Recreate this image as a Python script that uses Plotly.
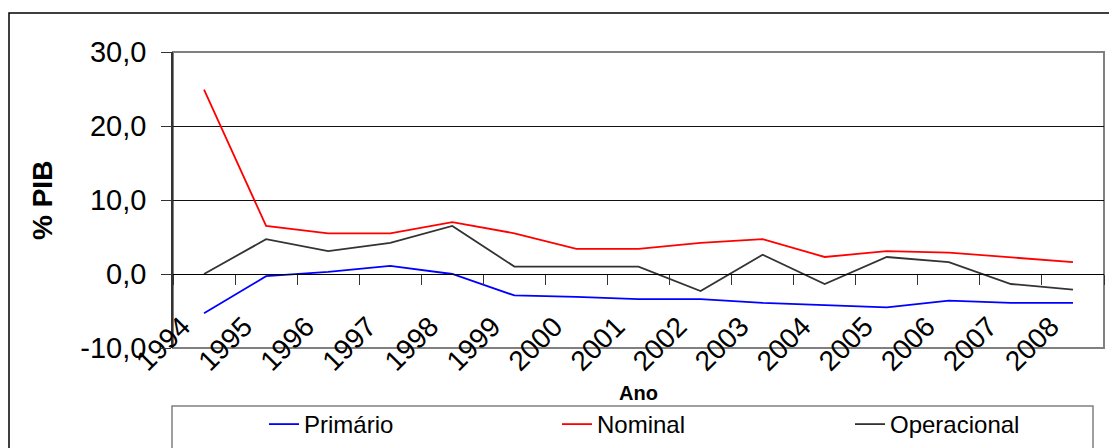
import plotly.graph_objects as go

anos = ["1994", "1995", "1996", "1997", "1998", "1999", "2000", "2001",
        "2002", "2003", "2004", "2005", "2006", "2007", "2008"]
primario = [-5.3, -0.3, 0.3, 1.1, 0.0, -2.9, -3.1, -3.4, -3.4, -3.9, -4.2, -4.5, -3.6, -3.9, -3.9]
nominal = [24.9, 6.5, 5.5, 5.5, 7.0, 5.5, 3.4, 3.4, 4.2, 4.7, 2.3, 3.1, 2.9, 2.3, 1.6]
operacional = [0.0, 4.7, 3.1, 4.2, 6.5, 1.0, 1.0, 1.0, -2.3, 2.6, -1.35, 2.3, 1.6, -1.35, -2.1]
y_ticks = [-10, 0, 10, 20, 30]
y_tick_labels = ["-10,0", "0,0", "10,0", "20,0", "30,0"]

W, H = 1109, 448
L, R, T, B = 173, 5, 52, 100
PW, PH = W - L - R, H - T - B


def px(x):
    return (x - L) / PW


def py(y):
    return (T + PH - y) / PH


FONT = "Liberation Sans, Arial, sans-serif"

fig = go.Figure()
fig.add_trace(go.Scatter(x=anos, y=primario, name="Primário", mode="lines",
                         line=dict(color="#0000FF", width=1.8)))
fig.add_trace(go.Scatter(x=anos, y=nominal, name="Nominal", mode="lines",
                         line=dict(color="#FF0000", width=1.8)))
fig.add_trace(go.Scatter(x=anos, y=operacional, name="Operacional", mode="lines",
                         line=dict(color="#333333", width=1.8)))

fig.update_layout(
    width=W, height=H,
    margin=dict(l=L, r=R, t=T, b=B, pad=0, autoexpand=False),
    paper_bgcolor="white", plot_bgcolor="white",
    font=dict(family=FONT, color="black"),
    showlegend=True,
    legend=dict(orientation="h", x=px(264), xanchor="left", y=py(402), yanchor="top",
                font=dict(size=24, family=FONT), bgcolor="rgba(0,0,0,0)",
                entrywidth=248, entrywidthmode="pixels", borderwidth=0),
    xaxis=dict(type="category", range=[-0.5, 14.5], anchor="free", position=0.25,
               showline=True, linecolor="black", linewidth=1,
               ticks="outside", ticklen=10, tickcolor="#333333", tickwidth=1,
               tickson="boundaries", tickangle=-45, automargin=False,
               ticklabelstandoff=24, ticklabelshift=-22,
               tickfont=dict(size=28, family=FONT), showgrid=False, zeroline=False),
    yaxis=dict(range=[-10, 30], tickvals=y_ticks, ticktext=y_tick_labels,
               showline=True, linecolor="#333333", linewidth=1.5,
               ticks="outside", ticklen=10, tickcolor="#333333",
               ticklabelstandoff=9, automargin=False,
               tickfont=dict(size=29, family=FONT),
               showgrid=True, gridcolor="#111111", gridwidth=1,
               zeroline=False),
    shapes=[
        # plot area border
        dict(type="rect", xref="paper", yref="paper", x0=0, x1=1, y0=0, y1=1,
             line=dict(color="#808080", width=2), layer="below"),
        # legend box
        dict(type="rect", xref="paper", yref="paper", x0=px(172), x1=px(1093),
             y0=py(470), y1=py(406), line=dict(color="#808080", width=1.5)),
        # outer chart frame
        dict(type="rect", xref="paper", yref="paper", x0=px(9), x1=px(1120),
             y0=py(480), y1=py(13), line=dict(color="black", width=1.5)),
    ],
    annotations=[
        dict(text="<b>% PIB</b>", xref="paper", yref="paper", x=px(42), y=py(201),
             textangle=-90, showarrow=False, font=dict(size=28, family=FONT),
             xanchor="center", yanchor="middle"),
        dict(text="<b>Ano</b>", xref="paper", yref="paper", x=px(638), y=py(393),
             showarrow=False, font=dict(size=20, family=FONT),
             xanchor="center", yanchor="middle"),
    ],
)

fig.write_html("out.html", config={"displayModeBar": False},
               post_script="document.body.style.margin='0';document.body.style.overflow='hidden';")
